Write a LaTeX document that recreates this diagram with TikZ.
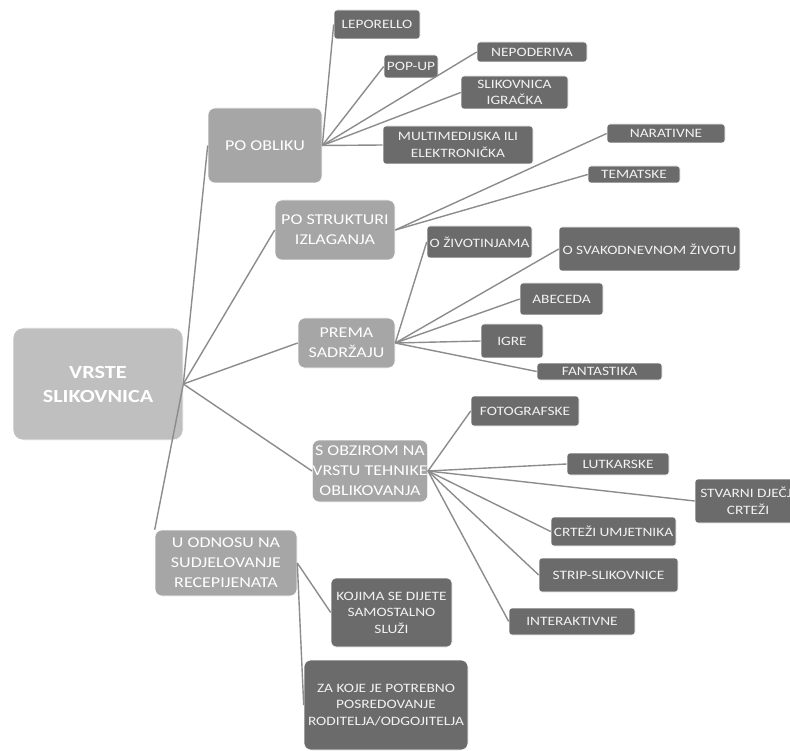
\documentclass[tikz,border=0pt]{standalone}
\usepackage{fontspec}
\setmainfont{Carlito}[FakeStretch=1.2]
\definecolor{rootc}{HTML}{BFBFBF}
\definecolor{lvone}{HTML}{A6A6A6}
\definecolor{lvtwo}{HTML}{6B6B6B}
\definecolor{linec}{HTML}{8C8C8C}
\definecolor{txtc}{HTML}{F2F2F2}
\tikzset{
  rootbox/.style={fill=rootc, draw=white, line width=0.6pt, rounded corners=10pt, text=white,
    font=\bfseries\fontsize{18.5}{24}\selectfont, align=center, inner sep=0pt},
  onebox/.style={fill=lvone, draw=white, line width=0.6pt, rounded corners=7pt, text=white,
    font=\fontsize{15}{20}\selectfont, align=center, inner sep=0pt},
  twobox/.style={fill=lvtwo, draw=white, line width=0.6pt, rounded corners=3pt, text=txtc,
    font=\fontsize{12.8}{16.5}\selectfont, align=center, inner sep=0pt},
  sz/.style 2 args={minimum width=#1pt, minimum height=#2pt},
  conn/.style={draw=linec, line width=1.4pt}
}
\begin{document}
\begin{tikzpicture}[x=1pt,y=-1pt]
\path[use as bounding box] (0,0) rectangle (790,751);
\clip (0,0) rectangle (790,751);
\fill[white] (0,0) rectangle (790,751);

% root
\node[rootbox, sz={170}{112}] (root) at (98,384) {VRSTE\\SLIKOVNICA};

% level 1
\node[onebox, sz={114}{75}] (obl) at (265,145.5) {PO OBLIKU};
\node[onebox, sz={120}{60}] (str) at (335,230) {PO STRUKTURI\\IZLAGANJA};
\node[onebox, sz={97}{50}] (sad) at (346.5,343) {PREMA\\SADRŽAJU};
\node[onebox, sz={106}{62}] (teh) at (370,471) {S OBZIROM NA\\VRSTU TEHNIKE\\OBLIKOVANJA};
\node[onebox, sz={142}{66}] (uod) at (226,563) {U ODNOSU NA\\SUDJELOVANJE\\RECEPIJENATA};

% level 2 - po obliku
\node[twobox, sz={86}{29}] (lep) at (377,24.5) {LEPORELLO};
\node[twobox, sz={54}{23}] (pop) at (411,66.5) {POP-UP};
\node[twobox, sz={110}{20}] (nep) at (532,52) {NEPODERIVA};
\node[twobox, sz={107}{33}] (igr) at (514.5,92.5) {SLIKOVNICA\\IGRAČKA};
\node[twobox, sz={150}{38}] (mul) at (458,145) {MULTIMEDIJSKA ILI\\ELEKTRONIČKA};

% po strukturi
\node[twobox, sz={118}{19}] (nar) at (666,133.5) {NARATIVNE};
\node[twobox, sz={92}{17}] (tem) at (634,174.5) {TEMATSKE};

% prema sadrzaju
\node[twobox, sz={105}{32}] (ziv) at (479.5,242) {O ŽIVOTINJAMA};
\node[twobox, sz={181}{44}] (sva) at (649.5,249) {O SVAKODNEVNOM ŽIVOTU};
\node[twobox, sz={83}{32}] (abe) at (561.5,299) {ABECEDA};
\node[twobox, sz={62}{34}] (igre) at (512,341) {IGRE};
\node[twobox, sz={125}{17}] (fan) at (599.5,371.5) {FANTASTIKA};

% tehnika
\node[twobox, sz={108}{30}] (fot) at (525,411) {FOTOGRAFSKE};
\node[twobox, sz={102}{22}] (lut) at (618,464) {LUTKARSKE};
\node[twobox, sz={106}{44}] (stv) at (748,501) {STVARNI DJEČJI\\CRTEŽI};
\node[twobox, sz={125}{29}] (crt) at (613.5,531.5) {CRTEŽI UMJETNIKA};
\node[twobox, sz={139}{34}] (stp) at (608.5,575) {STRIP-SLIKOVNICE};
\node[twobox, sz={126}{27}] (int) at (572,621.5) {INTERAKTIVNE};

% u odnosu
\node[twobox, sz={121}{69}, rounded corners=5pt] (koj) at (391.5,612.5) {KOJIMA SE DIJETE\\SAMOSTALNO\\SLUŽI};
\node[twobox, sz={164}{90}, rounded corners=7pt] (zak) at (386,705) {ZA KOJE JE POTREBNO\\POSREDOVANJE\\RODITELJA/ODGOJITELJA};

% connectors
\draw[conn] (root.east) -- (obl.west);
\draw[conn] (root.east) -- (str.west);
\draw[conn] (root.east) -- (sad.west);
\draw[conn] (root.east) -- (teh.west);
\draw[conn] (root.east) -- (uod.north west);

\foreach \c in {lep,pop,nep,igr,mul} \draw[conn] (obl.east) -- (\c.west);
\foreach \c in {nar,tem} \draw[conn] (str.east) -- (\c.west);
\foreach \c in {ziv,sva,abe,igre,fan} \draw[conn] (sad.east) -- (\c.west);
\foreach \c in {fot,lut,stv,crt,stp,int} \draw[conn] (teh.east) -- (\c.west);
\foreach \c in {koj,zak} \draw[conn] (uod.east) -- (\c.west);
\end{tikzpicture}
\end{document}
